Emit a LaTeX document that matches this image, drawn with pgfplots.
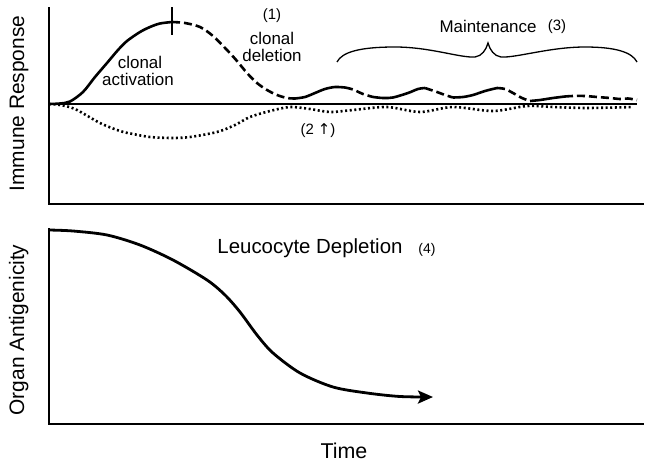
\documentclass[border=0pt]{standalone}
\usepackage{fontspec}
\setmainfont{Liberation Sans}
\newfontfamily\symfont{DejaVu Sans}
\usepackage{pgfplots}
\pgfplotsset{compat=1.18}
\usetikzlibrary{arrows.meta}
\begin{document}
\begin{tikzpicture}
\path[use as bounding box] (0bp,0bp) rectangle (651bp,-468bp);
% ---------------- top panel ----------------
\begin{axis}[at={(49bp,-204bp)}, anchor=south west, scale only axis,
  width=594bp, height=196bp, xmin=49, xmax=643, ymin=-100, ymax=96,
  axis lines*=left, axis line style={line width=2bp, line cap=rect},
  xtick=\empty, ytick=\empty, clip=false]
% baseline
\addplot[black, line width=1.2bp] coordinates {(49,0) (637,0)};
% clonal activation (solid)
\addplot[black, line width=2.6bp, smooth] coordinates {
(49,0) (60,0.5) (70,2.5) (83,12) (95,27) (107,41) (118,54) (127,63) (140,72) (150,77) (160,80.5) (172,82)};
% clonal deletion (dashed)
\addplot[black, line width=2.6bp, smooth, dash pattern=on 8bp off 4bp] coordinates {
(172,82) (185,81) (200,77) (213,68) (227,54) (237,43) (247,31) (257,21) (267,14) (277,9) (287,6) (295,5.5)};
% maintenance oscillation
\addplot[black, line width=2.6bp, smooth] coordinates {
(295,5.5) (305,7) (315,11) (325,15) (335,17) (345,16.5)};
\addplot[black, line width=2.6bp, smooth, dash pattern=on 8bp off 4bp] coordinates {
(345,16.5) (353,14.5) (363,10) (373,7)};
\addplot[black, line width=2.6bp, smooth] coordinates {
(373,7) (383,6) (393,6.5) (408,11) (418,15) (425,16)};
\addplot[black, line width=2.6bp, smooth, dash pattern=on 8bp off 4bp] coordinates {
(425,16) (437,12) (445,9) (453,6.5)};
\addplot[black, line width=2.6bp, smooth] coordinates {
(453,6.5) (463,7) (473,9) (485,13) (497,16)};
\addplot[black, line width=2.6bp, smooth, dash pattern=on 8bp off 4bp] coordinates {
(497,16) (505,15) (513,11) (522,6) (530,3)};
\addplot[black, line width=2.6bp, smooth] coordinates {
(530,3) (540,4) (553,6) (565,7.5)};
\addplot[black, line width=2.6bp, smooth, dash pattern=on 8bp off 4bp] coordinates {
(565,7.5) (573,8) (585,8) (597,7) (610,6) (620,5) (628,5.5) (637,4)};
% dotted curve
\addplot[black, line width=2.6bp, smooth, dash pattern=on 2bp off 2.6bp] coordinates {
(49,0) (60,-1) (75,-5) (100,-19) (120,-27) (133,-30) (150,-33) (172,-34) (190,-33) (217,-28) (235,-21) (250,-13) (270,-7) (290,-3) (310,-5) (330,-8) (353,-6) (387,-3) (420,-8) (453,-3) (493,-7) (527,-2) (553,-3) (587,-4) (633,-3)};
\end{axis}
% ---------------- bottom panel ----------------
\begin{axis}[at={(49bp,-424bp)}, anchor=south west, scale only axis,
  width=594bp, height=195bp, xmin=49, xmax=643, ymin=0, ymax=195,
  axis lines*=left, axis line style={line width=2bp, line cap=rect},
  xtick=\empty, ytick=\empty, clip=false]
\addplot[black, line width=2.8bp, smooth, -{Stealth[length=15bp,width=13bp,inset=3bp]}] coordinates {
(49,194) (73,193) (107,189) (140,179) (173,164) (207,144) (225,129) (240,112) (257,89) (273,71) (300,51) (333,37) (367,31) (400,27.5) (433,27)};
\end{axis}
% ---------------- annotations ----------------
\begin{scope}[x=1bp,y=1bp]
\draw[line width=2bp] (172,-7) -- (172,-35);
\draw[line width=1.3bp] (337,-62) .. controls (342,-52) and (360,-47) .. (395,-47)
  .. controls (430,-47) and (460,-58) .. (475,-57)
  .. controls (482,-56) and (486,-50) .. (488,-43)
  .. controls (490,-50) and (494,-56) .. (501,-57)
  .. controls (516,-58) and (550,-47) .. (585,-47)
  .. controls (615,-47) and (632,-52) .. (637,-62);
\node[anchor=base, inner sep=0pt, font=\fontsize{15}{18}\selectfont] at (272,-19) {(1)};
\node[anchor=base, inner sep=0pt, font=\fontsize{17}{20}\selectfont] at (272,-44) {clonal};
\node[anchor=base, inner sep=0pt, font=\fontsize{17}{20}\selectfont] at (272,-61.5) {deletion};
\node[anchor=base, inner sep=0pt, font=\fontsize{17}{20}\selectfont] at (140,-68) {clonal};
\node[anchor=base, inner sep=0pt, font=\fontsize{17}{20}\selectfont] at (138,-85) {activation};
\node[anchor=base, font=\fontsize{17}{20}\selectfont] at (488,-32.5) {Maintenance};
\node[anchor=base, font=\fontsize{15}{18}\selectfont] at (557,-30) {(3)};
\node[anchor=base, font=\fontsize{15}{18}\selectfont] at (318,-134) {(2 {\symfont ↑})};
\node[anchor=base, font=\fontsize{20.5}{24}\selectfont] at (310,-253) {Leucocyte Depletion};
\node[anchor=base, font=\fontsize{14}{17}\selectfont] at (427,-253) {(4)};
\node[anchor=base, rotate=90, font=\fontsize{21}{24}\selectfont] at (24,-103.5) {Immune Response};
\node[anchor=base, rotate=90, font=\fontsize{21}{24}\selectfont] at (24,-330) {Organ Antigenicity};
\node[anchor=base, font=\fontsize{21.5}{24}\selectfont] at (344,-458) {Time};
\end{scope}
\end{tikzpicture}
\end{document}
